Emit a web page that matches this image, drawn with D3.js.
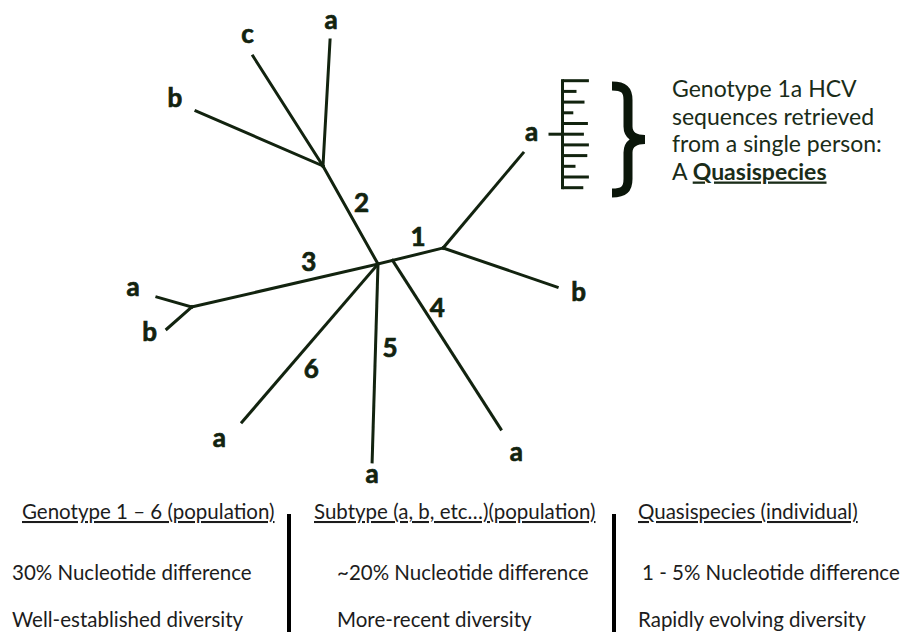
<!DOCTYPE html>
<html>
<head>
<meta charset="utf-8">
<script src="https://cdn.jsdelivr.net/npm/d3@7"></script>
<style>
  body { margin: 0; background: #fff; }
  svg { display: block; }
</style>
</head>
<body>
<div id="chart"></div>
<script>
// Genotype branches from the centre of the tree (length in tree units, angle in degrees)
const genotypes = ["1", "2", "3", "4", "5", "6"];
const genotypeLength = [33.5, 56.2, 95.5, 100.2, 99.0, 104.3];
const genotypeAngle = [13.8, 119.3, 193.0, -57.3, 268.3, 229.3];
// genotype 4 splits off the genotype 1 branch a little way from the centre
const genotypeParent = [null, null, null, "1", null, null];
const genotypeSplitAt = [0, 0, 0, 7.5, 0, 0];

// Subtype tips hanging off each genotype node
const subtypeGenotype = ["1", "1", "2", "2", "2", "3", "3", "4", "5", "6"];
const subtypeNames = ["a", "b", "a", "b", "c", "a", "b", "a", "a", "a"];
const subtypeLength = [62.1, 60.3, 63.1, 69.2, 65.2, 18.2, 16.7, 0, 0, 0];
const subtypeAngle = [49.9, -18.9, 86.8, 156.6, 122.5, 164.1, 221.3, -57.3, 268.3, 229.3];

// Quasispecies: genotype 1a sequences from one person, distance from the stem
const quasiDistance = [13.2, 7.0, 11.0, 5.4, 12.7, 10.7, 13.2, 12.4, 6.5, 13.2, 10.4];
const quasiLinked = 5; // sequence joined to the 1a tip

const noteLines = ["Genotype 1a HCV", "sequences retrieved", "from a single person:"];
const noteLast = ["A ", "Quasispecies"];

const tableHeaders = ["Genotype 1 \u2013 6 (population)", "Subtype (a, b, etc\u2026)(population)", "Quasispecies (individual)"];
const differenceRow = ["30% Nucleotide difference", "~20% Nucleotide difference", "1 - 5% Nucleotide difference"];
const diversityRow = ["Well-established diversity", "More-recent diversity", "Rapidly evolving diversity"];

// ---- layout ----
const width = 911, height = 632;
const ink = "#12230f";
const font = "Lato, 'Open Sans', sans-serif";

// label placement: distance along the branch (fraction) and sideways offset in px
const genotypeLabelPos = {"1": [0.68, -17.1], "2": [0.55, 15.9], "3": [0.35, 17.6],
                          "4": [0.32, -11.9], "5": [0.42, -14.5], "6": [0.59, -18]};
// tip labels: px beyond the tip and sideways offset
const tipLabelPos = [[19.7, -5.4], [22, -2.3], [18, 0], [24.5, 3.6], [19, 5.6],
                     [25, 0.6], [14.8, 9], [29.8, 0.8], [15, -0.5], [28.7, 5]];

const svg = d3.select("#chart").append("svg")
    .attr("width", width)
    .attr("height", height);

// tree units -> pixels, centre of the tree at (378, 264)
const x = d3.scaleLinear().domain([-100, 100]).range([178, 578]);
const y = d3.scaleLinear().domain([-100, 100]).range([464, 64]);

const rad = a => a * Math.PI / 180;
const step = (p, len, ang) => ({x: p.x + len * Math.cos(rad(ang)), y: p.y + len * Math.sin(rad(ang))});
const px = p => [x(p.x), y(p.y)];

// build branch list
const branches = [];
const genotypeEnd = {};
genotypes.forEach((g, i) => {
    let start = {x: 0, y: 0};
    if (genotypeParent[i]) {
        const pi = genotypes.indexOf(genotypeParent[i]);
        start = step(start, genotypeSplitAt[i], genotypeAngle[pi]);
    }
    const end = step(start, genotypeLength[i], genotypeAngle[i]);
    genotypeEnd[g] = end;
    branches.push({kind: "genotype", name: g, from: start, to: end});
});
subtypeNames.forEach((s, i) => {
    const from = genotypeEnd[subtypeGenotype[i]];
    const to = step(from, subtypeLength[i], subtypeAngle[i]);
    branches.push({kind: "subtype", name: s, from: from, to: to, angle: subtypeAngle[i], idx: i});
});

const tree = svg.append("g");

tree.selectAll("line.branch")
    .data(branches.filter(d => d.kind === "genotype" || subtypeLength[d.idx] > 0))
    .enter()
    .append("line")
    .attr("class", "branch")
    .attr("x1", d => px(d.from)[0])
    .attr("y1", d => px(d.from)[1])
    .attr("x2", d => px(d.to)[0])
    .attr("y2", d => px(d.to)[1])
    .attr("stroke", ink)
    .attr("stroke-width", 3)
    .attr("stroke-linecap", "square");

// vertical centring for bold single characters
const labelDy = t => (t === "a" || t === "c") ? "0.25em" : "0.36em";

function placeLabel(d) {
    const [x1, y1] = px(d.from), [x2, y2] = px(d.to);
    let ux = x2 - x1, uy = y2 - y1;
    let len = Math.hypot(ux, uy);
    if (len === 0) {
        // tip label on a bare genotype branch: follow that branch direction
        ux = Math.cos(rad(d.angle)); uy = -Math.sin(rad(d.angle)); len = 1;
    }
    ux /= len; uy /= len;
    const nx = -uy, ny = ux;
    if (d.kind === "genotype") {
        const [t, side] = genotypeLabelPos[d.name];
        return [x1 + ux * len * t + nx * side, y1 + uy * len * t + ny * side];
    }
    const [along, side] = tipLabelPos[d.idx];
    return [x2 + ux * along + nx * side, y2 + uy * along + ny * side];
}

tree.selectAll("text.lab")
    .data(branches)
    .enter()
    .append("text")
    .attr("class", "lab")
    .attr("x", d => placeLabel(d)[0])
    .attr("y", d => placeLabel(d)[1])
    .attr("dy", d => labelDy(d.name))
    .attr("text-anchor", "middle")
    .style("font-family", font)
    .style("font-weight", "bold")
    .style("font-size", "26px")
    .attr("fill", ink)
    .attr("stroke", ink)
    .attr("stroke-width", 0.7)
    .text(d => d.name);

// ---- quasispecies comb ----
const qx = d3.scaleLinear().domain([0, 15]).range([562.5, 592.5]);
const qy = d3.scalePoint().domain(d3.range(quasiDistance.length)).range([80.7, 187.7]);

const quasi = svg.append("g");
quasi.append("line")
    .attr("x1", qx(0)).attr("x2", qx(0))
    .attr("y1", qy(0) - 1.5).attr("y2", qy(quasiDistance.length - 1) + 1.5)
    .attr("stroke", ink).attr("stroke-width", 3);

quasi.selectAll("line.seq")
    .data(quasiDistance)
    .enter()
    .append("line")
    .attr("class", "seq")
    .attr("x1", qx(0))
    .attr("x2", d => qx(d))
    .attr("y1", (d, i) => qy(i))
    .attr("y2", (d, i) => qy(i))
    .attr("stroke", ink)
    .attr("stroke-width", 3);

// link from the 1a tip label into the comb
quasi.append("line")
    .attr("x1", qx(-7)).attr("x2", qx(0))
    .attr("y1", qy(quasiLinked)).attr("y2", qy(quasiLinked))
    .attr("stroke", ink).attr("stroke-width", 3);

// curly brace around the comb
const bx = 612, by0 = 86, by1 = 193, bmid = (by0 + by1) / 2;
const brace = d3.path();
brace.moveTo(bx, by0);
brace.bezierCurveTo(bx + 12, by0, bx + 16, by0 + 4, bx + 16, by0 + 14);
brace.lineTo(bx + 16, bmid - 13);
brace.bezierCurveTo(bx + 16, bmid - 4, bx + 23, bmid, bx + 33, bmid);
brace.bezierCurveTo(bx + 23, bmid, bx + 16, bmid + 4, bx + 16, bmid + 13);
brace.lineTo(bx + 16, by1 - 14);
brace.bezierCurveTo(bx + 16, by1 - 4, bx + 12, by1, bx, by1);
quasi.append("path")
    .attr("d", brace.toString())
    .attr("fill", "none")
    .attr("stroke", "#0b160a")
    .attr("stroke-width", 9);

// ---- note on the right ----
const note = svg.append("text")
    .attr("x", 672)
    .attr("y", 97)
    .style("font-family", font)
    .style("font-size", "23px")
    .attr("fill", "#1a2c18");
noteLines.forEach((t, i) => {
    note.append("tspan").attr("x", 672).attr("dy", i === 0 ? 0 : 27.5).text(t);
});
note.append("tspan").attr("x", 672).attr("dy", 27.5).text(noteLast[0]);
note.append("tspan")
    .style("font-weight", "bold")
    .style("text-decoration", "underline")
    .text(noteLast[1]);

// ---- comparison table ----
const table = svg.append("g")
    .style("font-family", font)
    .style("font-size", "20.5px")
    .attr("fill", "#1c1c1c");

const rows = [
    {cells: tableHeaders, baseline: 519, xs: [22, 314, 638], underline: true},
    {cells: differenceRow, baseline: 580, xs: [12, 337, 642], underline: false},
    {cells: diversityRow, baseline: 627, xs: [12, 337, 638], underline: false}
];
rows.forEach(r => {
    table.selectAll(null)
        .data(r.cells)
        .enter()
        .append("text")
        .attr("x", (d, i) => r.xs[i])
        .attr("y", r.baseline)
        .style("text-decoration", r.underline ? "underline" : null)
        .text(d => d);
});

[289, 614].forEach(sx => {
    table.append("line")
        .attr("x1", sx).attr("x2", sx)
        .attr("y1", 514).attr("y2", height)
        .attr("stroke", "#000")
        .attr("stroke-width", 4);
});
</script>
</body>
</html>
